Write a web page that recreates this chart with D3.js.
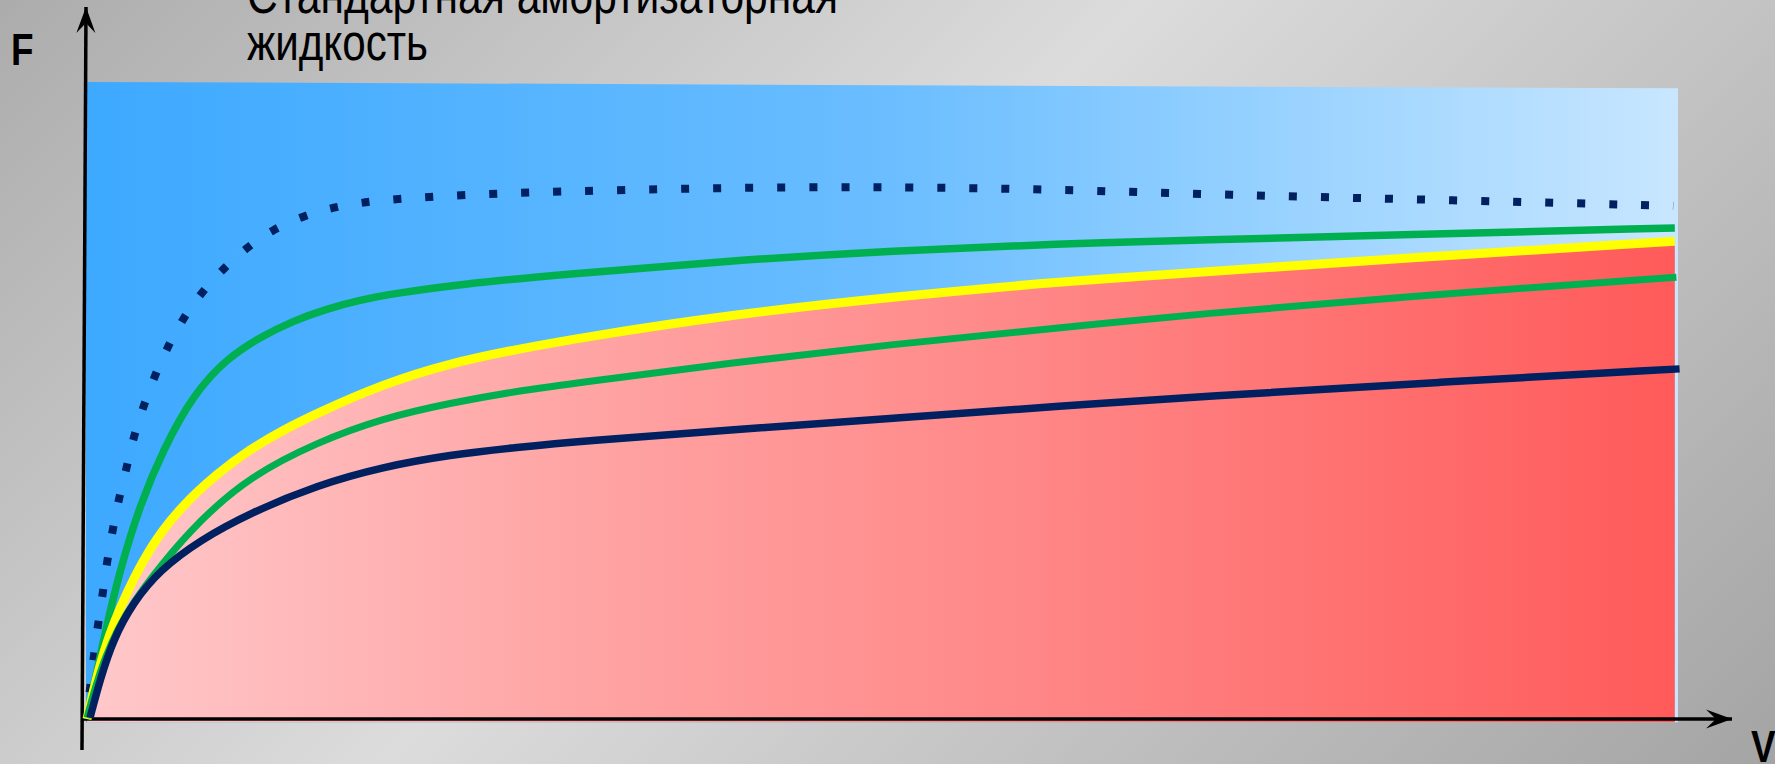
<!DOCTYPE html>
<html>
<head>
<meta charset="utf-8">
<script src="https://cdn.jsdelivr.net/npm/d3@7/dist/d3.min.js"></script>
<style>
	html, body { margin: 0; padding: 0; overflow: hidden; background: #c8c8c8; }
	text { font-family: "Liberation Sans", Arial, sans-serif; }
</style>
</head>
<body>
<div id="chart"></div>
<script>
// --- DATEN (V und F in relativen Einheiten 0..100) ---
const titleLines = ["Стандартная амортизаторная", "жидкость"];
const yLabel = "F";
const xLabel = "V";

// gepunktete Kurve (oben)
const dottedCurve = [
	[0, 0], [0.19, 5.1], [0.44, 10.1], [0.69, 15.0], [1.01, 20.1], [1.26, 25.0], [1.63, 30.1],
	[2.01, 35.0], [2.51, 39.9], [2.95, 44.9], [3.58, 49.7], [4.27, 54.4], [5.09, 59.0], [6.03, 63.4],
	[7.23, 67.6], [8.61, 71.4], [10.1, 74.7], [11.7, 77.5], [13.6, 79.6], [15.5, 81.0], [17.5, 81.8],
	[19.5, 82.3], [23.5, 82.9], [29.5, 83.5], [44.3, 84.3], [58.6, 84.0], [71.8, 82.9], [85.7, 82.1], [99.7, 81.2]
];
// obere grüne Kurve
const upperGreen = [
	[0, 0], [0.38, 4.6], [1.13, 13.6], [2.07, 23.6], [3.33, 33.9], [4.78, 42.6], [6.66, 51.3],
	[8.8, 57.1], [10.87, 60.4], [12.95, 63.0], [15.08, 64.9], [17.16, 66.3], [19.23, 67.3], [23.44, 68.8],
	[29.73, 70.3], [40.23, 72.5], [50.66, 74.1], [61.16, 75.2], [69.96, 75.8], [82.53, 76.6], [99.8, 77.7]
];
// gelbe Kurve (Grenze blau / rot)
const yellowCurve = [
	[0, 0], [0.82, 9.0], [1.89, 16.9], [3.96, 27.5], [6.03, 33.9], [8.17, 38.8], [10.25, 42.7],
	[12.32, 45.7], [14.46, 48.4], [18.6, 53.0], [22.82, 56.3], [27.03, 58.5], [31.18, 60.4], [40.23, 63.9],
	[50.66, 66.8], [61.16, 69.2], [69.96, 70.7], [82.53, 72.9], [99.8, 75.6]
];
// untere grüne Kurve
const lowerGreen = [
	[0, 0.2], [0.5, 4.9], [1.13, 9.7], [1.95, 14.4], [2.89, 18.4], [4.59, 24.2], [7.1, 31.5],
	[10.25, 38.4], [14.46, 43.8], [18.6, 47.6], [22.82, 50.0], [27.03, 51.9], [31.18, 53.3], [40.23, 56.3],
	[50.66, 59.3], [61.16, 61.9], [69.96, 64.1], [82.53, 66.8], [99.9, 69.9]
];
// dunkelblaue Kurve (unten)
const navyCurve = [
	[0.19, 0.2], [0.82, 6.2], [1.63, 12.5], [2.89, 18.4], [4.59, 23.6], [7.1, 28.3], [10.25, 32.6],
	[14.46, 37.0], [18.6, 39.9], [22.82, 41.8], [27.03, 43.0], [31.18, 44.0], [40.23, 45.7], [50.66, 47.6],
	[61.16, 49.5], [69.96, 51.0], [85.04, 53.3], [100.1, 55.4]
];

// --- KONFIGURATION ---
const width = 1775;
const height = 764;

const x = d3.scaleLinear().domain([0, 100]).range([87, 1678]);
const y = d3.scaleLinear().domain([0, 100]).range([719, 87]);

const svg = d3.select("#chart").append("svg")
	.attr("width", width)
	.attr("height", height);

const defs = svg.append("defs");

// Hintergrund: diagonaler Grauverlauf, hell in der Mitte
const bgGrad = defs.append("linearGradient").attr("id", "bg")
	.attr("gradientUnits", "userSpaceOnUse")
	.attr("x1", 0).attr("y1", 0).attr("x2", 1270).attr("y2", 1270);
[[0, "#acacac"], [0.45, "#dcdcdc"], [1, "#a4a4a4"]].forEach(([o, c]) =>
	bgGrad.append("stop").attr("offset", o).attr("stop-color", c));

const blueGrad = defs.append("linearGradient").attr("id", "blue")
	.attr("gradientUnits", "userSpaceOnUse")
	.attr("x1", x(0)).attr("y1", 0).attr("x2", x(100)).attr("y2", 0);
[[0, "#3da9ff"], [0.5, "#6abdff"], [0.75, "#98d2ff"], [1, "#c8e6ff"]].forEach(([o, c]) =>
	blueGrad.append("stop").attr("offset", o).attr("stop-color", c));

const redGrad = defs.append("linearGradient").attr("id", "red")
	.attr("gradientUnits", "userSpaceOnUse")
	.attr("x1", x(0)).attr("y1", 0).attr("x2", x(100)).attr("y2", 0);
[[0, "#ffc8ca"], [0.33, "#ffa2a2"], [0.6, "#ff8686"], [1, "#ff5a5a"]].forEach(([o, c]) =>
	redGrad.append("stop").attr("offset", o).attr("stop-color", c));

// Pfeilspitze
defs.append("marker").attr("id", "arrow")
	.attr("markerUnits", "userSpaceOnUse")
	.attr("viewBox", "-27 -10 28 20")
	.attr("refX", 0).attr("refY", 0)
	.attr("markerWidth", 28).attr("markerHeight", 20)
	.attr("orient", "auto")
	.append("path")
	.attr("d", "M0,0 L-26,-9.5 L-16,0 L-26,9.5 Z")
	.attr("fill", "#000");

svg.append("rect").attr("width", width).attr("height", height).attr("fill", "url(#bg)");

// blaue Fläche (leicht schräg oben)
svg.append("path")
	.attr("d", d3.line()([
		[x(0) - 1, y(100.8)], [x(100), y(99.8)], [x(100), y(-0.5)], [x(0) - 1, y(-0.5)]
	]) + "Z")
	.attr("fill", "url(#blue)");

const curve = d3.curveBasis;

// rote Fläche unter der gelben Kurve
svg.append("path")
	.datum(yellowCurve)
	.attr("d", d3.area()
		.x(d => x(d[0]))
		.y0(y(-0.5))
		.y1(d => y(d[1]))
		.curve(curve))
	.attr("fill", "url(#red)");

// --- ACHSEN ---
svg.append("line")
	.attr("x1", x(0) - 5).attr("y1", y(0))
	.attr("x2", 1732).attr("y2", y(0))
	.attr("stroke", "#000").attr("stroke-width", 3.5)
	.attr("marker-end", "url(#arrow)");

svg.append("line")
	.attr("x1", x(0) - 5).attr("y1", 750)
	.attr("x2", x(0) - 1).attr("y2", 7)
	.attr("stroke", "#000").attr("stroke-width", 3.5)
	.attr("marker-end", "url(#arrow)");

// --- KURVEN ---
const line = d3.line().x(d => x(d[0])).y(d => y(d[1])).curve(curve);

const series = [
	{ data: dottedCurve, color: "#002060", w: 8, dash: "8 24", offset: 5 },
	{ data: upperGreen, color: "#00b050", w: 7.5 },
	{ data: yellowCurve, color: "#ffff00", w: 9 },
	{ data: lowerGreen, color: "#00b050", w: 7 },
	{ data: navyCurve, color: "#002060", w: 7.5 }
];

svg.append("g").selectAll("path")
	.data(series)
	.join("path")
	.attr("d", d => line(d.data))
	.attr("fill", "none")
	.attr("stroke", d => d.color)
	.attr("stroke-width", d => d.w)
	.attr("stroke-dasharray", d => d.dash || null)
	.attr("stroke-dashoffset", d => d.offset || null);

// --- TEXTE ---
svg.append("text")
	.attr("x", 247).attr("y", 13)
	.attr("font-size", 52)
	.attr("textLength", 591).attr("lengthAdjust", "spacingAndGlyphs")
	.attr("fill", "#000")
	.text(titleLines[0]);

svg.append("text")
	.attr("x", 247).attr("y", 60)
	.attr("font-size", 52)
	.attr("textLength", 181).attr("lengthAdjust", "spacingAndGlyphs")
	.attr("fill", "#000")
	.text(titleLines[1]);

svg.append("text")
	.attr("transform", "translate(11,65) scale(0.82,1)")
	.attr("font-size", 45).attr("font-weight", "bold")
	.attr("fill", "#000")
	.text(yLabel);

svg.append("text")
	.attr("transform", "translate(1751,762) scale(0.82,1)")
	.attr("font-size", 45).attr("font-weight", "bold")
	.attr("fill", "#000")
	.text(xLabel);
</script>
</body>
</html>
